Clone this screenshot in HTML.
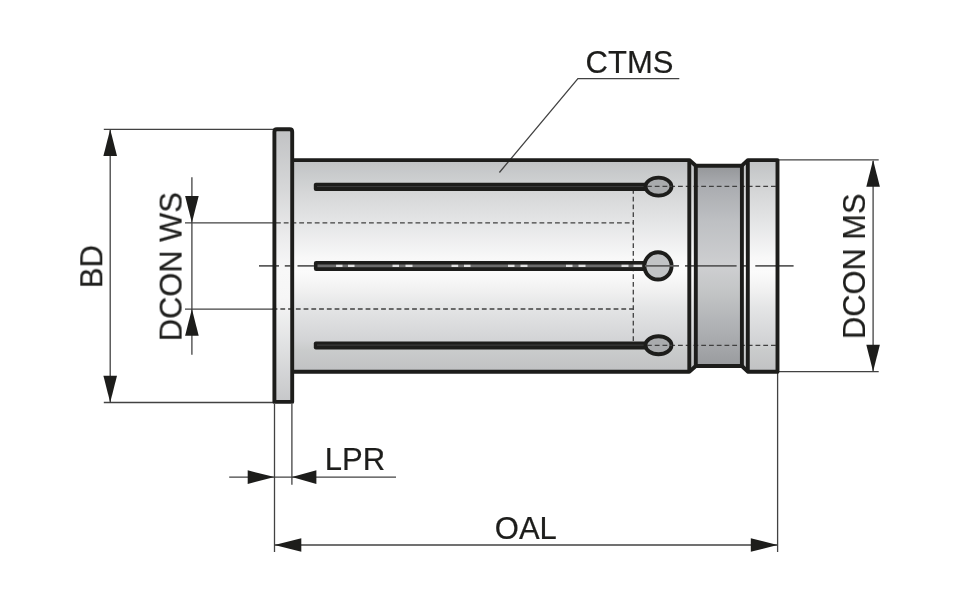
<!DOCTYPE html>
<html lang="en">
<head>
<meta charset="utf-8">
<title>Drawing</title>
<style>
html,body{margin:0;padding:0;background:#fff;}
svg{display:block;}
text{font-family:"Liberation Sans",Arial,Helvetica,sans-serif;font-size:31px;fill:#1d1d1b;stroke:#1d1d1b;stroke-width:0.2px;}
.o{fill:none;stroke:#1d1d1b;stroke-width:3.9;stroke-linejoin:round;stroke-linecap:butt;}
.t{fill:none;stroke:#424242;stroke-width:1.3;}
.d{fill:none;stroke:#404040;stroke-width:1.3;stroke-dasharray:4.8 2.95;}
.a{fill:#1d1d1b;stroke:none;}
</style>
</head>
<body>
<svg width="960" height="602" viewBox="0 0 960 602">
<defs>
<linearGradient id="gb" x1="0" y1="0" x2="0" y2="1">
<stop offset="0" stop-color="#c0c2c4"/>
<stop offset="0.103" stop-color="#ced0d1"/>
<stop offset="0.151" stop-color="#d5d6d7"/>
<stop offset="0.293" stop-color="#e4e5e6"/>
<stop offset="0.463" stop-color="#f8f8f8"/>
<stop offset="0.529" stop-color="#fbfbfb"/>
<stop offset="0.614" stop-color="#f1f1f1"/>
<stop offset="0.704" stop-color="#e3e4e5"/>
<stop offset="0.85" stop-color="#d3d4d6"/>
<stop offset="0.897" stop-color="#cacccc"/>
<stop offset="1" stop-color="#c0c1c3"/>
</linearGradient>
<linearGradient id="gf" x1="0" y1="0" x2="0" y2="1">
<stop offset="0" stop-color="#c1c2c4"/>
<stop offset="0.22" stop-color="#d6d7d8"/>
<stop offset="0.4" stop-color="#ececed"/>
<stop offset="0.52" stop-color="#f8f8f8"/>
<stop offset="0.62" stop-color="#f6f6f6"/>
<stop offset="0.78" stop-color="#e2e3e4"/>
<stop offset="1" stop-color="#c6c7c9"/>
</linearGradient>
<linearGradient id="gg" x1="0" y1="0" x2="0" y2="1">
<stop offset="0" stop-color="#949699"/>
<stop offset="0.1" stop-color="#aaacb0"/>
<stop offset="0.28" stop-color="#bec0c3"/>
<stop offset="0.5" stop-color="#cecfd1"/>
<stop offset="0.62" stop-color="#c4c6c7"/>
<stop offset="0.77" stop-color="#b3b5b8"/>
<stop offset="0.9" stop-color="#a5a7aa"/>
<stop offset="1" stop-color="#999b9e"/>
</linearGradient>
</defs>
<rect width="960" height="602" fill="#fff"/>

<!-- fills -->
<rect x="274.6" y="129" width="17.6" height="273" fill="url(#gf)"/>
<path d="M292 160.1H689.3L695.8 165.7H741.9L747.8 160.1H777.5V371.7H747.8L741.9 366H695.8L689.3 371.7H292Z" fill="url(#gb)"/>
<rect x="695.8" y="165.7" width="46.1" height="200.3" fill="url(#gg)"/>

<!-- thin dimension/extension lines -->
<g class="t">
<path d="M103.8 129.3H274"/>
<path d="M103.8 402.5H274"/>
<path d="M110.2 130V402"/>
<path d="M185 222.8H276"/>
<path d="M185 309.1H276"/>
<path d="M191.9 177.3V354.7"/>
<path d="M779 159.9H878.7"/>
<path d="M779 371.6H878.7"/>
<path d="M873.1 161V371"/>
<path d="M274.5 404V552"/>
<path d="M291.9 404V484.8"/>
<path d="M777.6 373V552"/>
<path d="M229.2 477.1H396"/>
<path d="M275 545H777"/>
<path d="M499.4 172.5L577.9 78.6H679.3"/>
</g>

<!-- hidden dashed lines -->
<path class="d" d="M276 222.8H633.3"/>
<path class="d" d="M272.6 309H633.3"/>
<path class="d" d="M633.3 189V344"/>
<path class="d" d="M647 186.4H776"/>
<path class="d" d="M647 345.4H776"/>

<!-- slots -->
<rect x="313.8" y="182.8" width="335" height="8.1" rx="2" fill="#1d1d1b"/>
<rect x="313.8" y="341.4" width="335" height="8" rx="2" fill="#1d1d1b"/>
<rect x="313.9" y="260.9" width="335" height="10" rx="2.2" fill="#1d1d1b"/>
<path d="M317.5 265.9H648" stroke="#6c6c6c" stroke-width="2.8" fill="none"/>
<path d="M336.1 265.9H342.5M348 265.9H354.5M392.5 265.9H399M405.5 265.9H412.5M451.5 265.9H458.2M464 265.9H470.5M508 265.9H514.5M520.5 265.9H527.5M566 265.9H572.5M578.5 265.9H585.5M621.5 265.9H628.5M633.5 265.9H641.9" stroke="#e2e2e2" stroke-width="2.3" fill="none"/>
<path d="M317 186.5H646M317 345.1H646" stroke="#3a3a3a" stroke-width="1.2" fill="none"/>

<!-- holes -->
<ellipse cx="658.5" cy="186.6" rx="13" ry="9" fill="#a9abad" stroke="#1d1d1b" stroke-width="3.8"/>
<ellipse cx="658.5" cy="345.25" rx="13" ry="9" fill="#a9abad" stroke="#1d1d1b" stroke-width="3.8"/>
<circle cx="658" cy="265.9" r="13.6" fill="#c1c3c5" stroke="#1d1d1b" stroke-width="3.9"/>
<path class="d" d="M647 186.4H672M647 345.4H672"/>

<!-- centre line -->
<path d="M259 265.9H279M284.8 265.9H290.5M297.5 265.9H314M645 265.9H679M685 265.9H736.6M742 265.9H748.5M755.3 265.9H793.6" stroke="#5c5c5c" stroke-width="1.6" fill="none"/>

<!-- outlines -->
<path class="o" d="M274.4 401.9V131.7Q274.4 129.2 276.9 129.2H289.7Q292.2 129.2 292.2 131.7V401.9Z"/>
<path class="o" d="M292.4 160.1H689.3L695.8 165.7H741.9L747.8 160.1H777.5V371.7H747.8L741.9 366H695.8L689.3 371.7H292.4"/>
<path class="o" d="M689.3 160.1V371.7M695.8 165.7V366M741.9 165.7V366M747.8 160.1V371.7"/>

<!-- arrows -->
<g class="a">
<path d="M110.2 129.3L103.4 156.1H117Z"/>
<path d="M110.2 402.5L103.4 375.7H117Z"/>
<path d="M191.9 222.8L185.1 196H198.7Z"/>
<path d="M191.9 309.1L185.1 335.7H198.7Z"/>
<path d="M873.1 159.9L866.3 186.7H879.9Z"/>
<path d="M873.1 371.6L866.3 344.8H879.9Z"/>
<path d="M274.5 477.1L247.7 470.3V483.9Z"/>
<path d="M291.9 477.1L316.4 470.3V483.9Z"/>
<path d="M274.5 545L301.3 538.2V551.8Z"/>
<path d="M777.6 545L750.8 538.2V551.8Z"/>
</g>

<!-- labels -->
<g style="opacity:0.999">
<text x="585.6" y="72.9">CTMS</text>
<text x="327.1" y="469.8" dx="-2.3">LPR</text>
<text x="494.8" y="538.6">OAL</text>
<text transform="translate(102.3 266.7) rotate(-90)" text-anchor="middle">BD</text>
<text transform="translate(181.6 266.7) rotate(-90)" text-anchor="middle" style="font-size:30.85px">DCON WS</text>
<text transform="translate(865 266.3) rotate(-90)" text-anchor="middle" style="font-size:30.85px">DCON MS</text>
</g>
</svg>
</body>
</html>
